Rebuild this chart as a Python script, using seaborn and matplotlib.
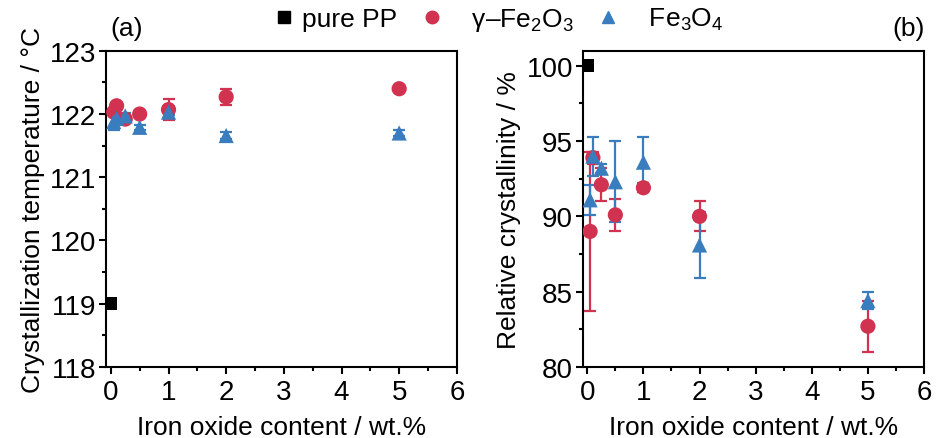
import numpy as np
import pandas as pd
import matplotlib
matplotlib.use("Agg")
import matplotlib.pyplot as plt
from matplotlib.ticker import MultipleLocator
from matplotlib.lines import Line2D
import seaborn as sns

# Iron oxide loadings (wt.%)
content = [0.05, 0.1, 0.25, 0.5, 1, 2, 5]

# Reference polymer without filler
pp_content = [0]
pp_tc = [119.0]
pp_xc = [100.0]

# Crystallization temperature (degC) and standard deviation
tc_fe2o3 = [122.03, 122.13, 121.92, 122.00, 122.07, 122.27, 122.40]
tc_fe2o3_err = [0.05, 0.05, 0.05, 0.05, 0.17, 0.12, 0.05]
tc_fe3o4 = [121.88, 121.93, 121.97, 121.79, 122.03, 121.66, 121.70]
tc_fe3o4_err = [0.14, 0.05, 0.05, 0.04, 0.05, 0.05, 0.04]

# Relative crystallinity (%) and standard deviation
xc_fe2o3 = [89.0, 93.9, 92.1, 90.1, 91.9, 90.0, 82.7]
xc_fe2o3_err = [5.3, 0.4, 1.1, 1.05, 0.3, 1.0, 1.7]
xc_fe3o4 = [91.1, 94.0, 93.2, 92.3, 93.6, 88.1, 84.4]
xc_fe3o4_err = [1.0, 1.3, 0.3, 2.7, 1.7, 2.2, 0.55]

series_names = ["pure PP", "   γ–Fe$_2$O$_3$", "   Fe$_3$O$_4$"]
red = "#D0324F"
blue = "#3A7DBE"

sns.set_theme(style="white")
plt.rcParams["font.family"] = ["Liberation Sans", "DejaVu Sans"]
plt.rcParams["mathtext.fontset"] = "custom"
plt.rcParams["mathtext.rm"] = "Liberation Sans"
plt.rcParams["mathtext.it"] = "Liberation Sans:italic"
plt.rcParams["mathtext.bf"] = "Liberation Sans:bold"
plt.rcParams["text.color"] = "black"
plt.rcParams["axes.labelcolor"] = "black"

fs_tick = 20
fs_label = 19
fig = plt.figure(figsize=(9.4, 4.39), dpi=100)
ax1 = fig.add_axes([0.113, 0.162, 0.373, 0.72])
ax2 = fig.add_axes([0.620, 0.162, 0.363, 0.72])


def panel(ax, pp, a, a_err, b, b_err):
    df_pp = pd.DataFrame({"x": pp_content, "y": pp})
    df_a = pd.DataFrame({"x": content, "y": a, "e": a_err})
    df_b = pd.DataFrame({"x": content, "y": b, "e": b_err})
    ax.errorbar(df_a["x"], df_a["y"], yerr=df_a["e"], fmt="none", ecolor=red,
                elinewidth=1.6, capsize=4, capthick=1.6, zorder=2)
    ax.errorbar(df_b["x"], df_b["y"], yerr=df_b["e"], fmt="none", ecolor=blue,
                elinewidth=1.6, capsize=4, capthick=1.6, zorder=2)
    sns.scatterplot(data=df_pp, x="x", y="y", ax=ax, marker="s", color="black",
                    s=90, edgecolor="none", zorder=3, legend=False)
    sns.scatterplot(data=df_a, x="x", y="y", ax=ax, marker="o", color=red,
                    s=120, edgecolor="none", zorder=3, legend=False)
    sns.scatterplot(data=df_b, x="x", y="y", ax=ax, marker="^", color=blue,
                    s=120, edgecolor="none", zorder=4, legend=False)
    ax.set_xlim(-0.08, 6)
    ax.xaxis.set_major_locator(MultipleLocator(1))
    ax.xaxis.set_minor_locator(MultipleLocator(0.5))
    ax.set_xlabel("Iron oxide content / wt.%", fontsize=fs_label, labelpad=7)
    for s in ax.spines.values():
        s.set_color("black")
        s.set_linewidth(1.5)
    ax.tick_params(which="both", direction="out", bottom=True, left=True,
                   top=False, right=False, width=1.5, colors="black",
                   labelsize=fs_tick, pad=2)
    ax.tick_params(axis="x", which="both", pad=4)
    ax.tick_params(which="major", length=5)
    ax.tick_params(which="minor", length=3)


panel(ax1, pp_tc, tc_fe2o3, tc_fe2o3_err, tc_fe3o4, tc_fe3o4_err)
ax1.set_ylim(118, 123)
ax1.yaxis.set_major_locator(MultipleLocator(1))
ax1.yaxis.set_minor_locator(MultipleLocator(0.5))
ax1.set_ylabel("Crystallization temperature / °C", fontsize=fs_label,
               labelpad=4)

panel(ax2, pp_xc, xc_fe2o3, xc_fe2o3_err, xc_fe3o4, xc_fe3o4_err)
ax2.set_ylim(80, 101)
ax2.yaxis.set_major_locator(MultipleLocator(5))
ax2.yaxis.set_minor_locator(MultipleLocator(2.5))
ax2.set_ylabel("Relative crystallinity / %", fontsize=fs_label, labelpad=4)

fig.text(0.117, 0.933, "(a)", fontsize=fs_label, ha="left", va="center")
fig.text(0.984, 0.933, "(b)", fontsize=fs_label, ha="right", va="center")

handles = [
    Line2D([], [], marker="s", color="black", ls="none", markersize=9),
    Line2D([], [], marker="o", color=red, ls="none", markersize=9),
    Line2D([], [], marker="^", color=blue, ls="none", markersize=9),
]
fig.legend(handles, series_names, loc="center", bbox_to_anchor=(0.53, 0.953),
           ncol=3, frameon=False, fontsize=fs_label, handlelength=0.8,
           handletextpad=0.3, columnspacing=0.9, borderpad=0,
           labelcolor="black")

fig.savefig("out.png", dpi=100)
